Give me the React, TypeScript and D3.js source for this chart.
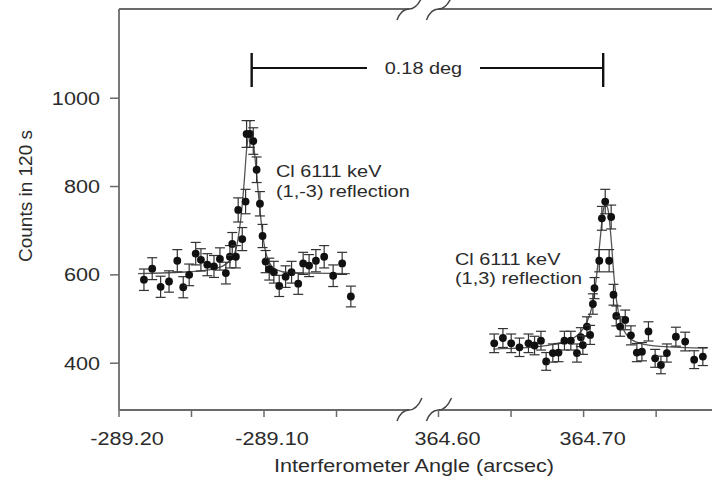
import React from "react";
import * as d3 from "d3";

// ---- data ----
const leftAngles = [
  -289.1828, -289.1771, -289.1713, -289.1655, -289.1598, -289.1557, -289.1516, -289.1471,
  -289.1435, -289.1391, -289.1345, -289.1304, -289.1263, -289.1235, -289.1219, -289.1194,
  -289.1178, -289.115, -289.1127, -289.112, -289.1097, -289.1074, -289.1051, -289.1028,
  -289.101, -289.0989, -289.0964, -289.0932, -289.0895, -289.0851, -289.081, -289.0764,
  -289.073, -289.0689, -289.0642, -289.0585, -289.0523, -289.0461, -289.0401,
];
const leftCounts = [
  589, 614, 573, 585, 632, 572, 600, 648, 634, 623, 619, 636, 604, 641, 670, 641,
  747, 681, 766, 919, 919, 903, 838, 761, 688, 630, 613, 606, 575, 596, 606, 580,
  626, 621, 632, 641, 598, 626, 551,
];
const rightAngles = [
  364.6384, 364.6444, 364.6501, 364.6558, 364.662, 364.6662, 364.6706, 364.6742,
  364.6788, 364.6827, 364.6868, 364.6912, 364.6954, 364.6981, 364.6995, 364.7023,
  364.7045, 364.7064, 364.7075, 364.7108, 364.7126, 364.7149, 364.7176, 364.719,
  364.7206, 364.7225, 364.7252, 364.7287, 364.7326, 364.7367, 364.7402, 364.7447,
  364.7493, 364.7533, 364.7574, 364.7636, 364.77, 364.7762, 364.7822,
];
const rightCounts = [
  445, 457, 445, 436, 445, 440, 451, 404, 423, 424, 451, 451, 423, 459, 441, 483,
  464, 534, 570, 632, 728, 766, 632, 731, 555, 507, 483, 498, 463, 424, 426, 472,
  411, 396, 423, 460, 449, 408, 415,
];
const leftFitAngles = [
  -289.1869, -289.1511, -289.1338, -289.1249, -289.1207, -289.118, -289.1159, -289.1139,
  -289.1118, -289.1097, -289.1076, -289.1056, -289.1035, -289.1014, -289.0994, -289.0966,
  -289.0918, -289.0822, -289.0408,
];
const leftFitCounts = [
  603, 607, 614, 628, 645, 680, 730, 800, 890, 925, 905, 845, 770, 705, 660, 630, 612, 605, 603,
];
const rightFitAngles = [
  364.6377, 364.6701, 364.6873, 364.6963, 364.7018, 364.7059, 364.7087, 364.7114,
  364.7135, 364.7152, 364.717, 364.719, 364.7211, 364.7232, 364.7259, 364.7307,
  364.739, 364.7528, 364.7852,
];
const rightFitCounts = [
  432, 438, 450, 465, 490, 530, 590, 680, 745, 760, 745, 680, 590, 530, 490, 460, 445, 438, 434,
];
const yTicks = [400, 600, 800, 1000];
const leftTicks = [-289.2, -289.15, -289.1, -289.05];
const leftTickLabels = ["-289.20", "", "-289.10", ""];
const rightTicks = [364.6, 364.65, 364.7, 364.75];
const rightTickLabels = ["364.60", "", "364.70", ""];
const bracketEnds = [-289.1085, 364.7135];
const bracketLabel = "0.18 deg";
const leftLabel = ["Cl 6111 keV", "(1,-3) reflection"];
const rightLabel = ["Cl 6111 keV", "(1,3) reflection"];
const xTitle = "Interferometer Angle (arcsec)";
const yTitle = "Counts in 120 s";

const FONT = "'Liberation Sans', Arial, Helvetica, sans-serif";
const TXT = "#2b2b2b";
const AX = "#6a6a6a";
const SX = 1.17; // horizontal stretch of the reference's lettering

function Stretched({ x, y, size, anchor = "start", children }: any) {
  return (
    <text
      transform={`translate(${x},${y}) scale(${SX},1)`}
      fontSize={size}
      fontFamily={FONT}
      fill={TXT}
      textAnchor={anchor}
    >
      {children}
    </text>
  );
}

export default function App() {
  const W = 712;
  const H = 485;
  const xL = d3.scaleLinear().domain([-289.2, -289.0]).range([119, 409]);
  const xR = d3.scaleLinear().domain([364.6, 364.8]).range([438.5, 728.7]);
  const y = d3.scaleLinear().domain([294, 1202]).range([410, 9]);
  const yTop = y.range()[1];
  const yBot = y.range()[0];
  const xAxisL = xL.range()[0];

  const mkLine = (xs: any) =>
    d3
      .line<[number, number]>()
      .x((d) => xs(d[0]))
      .y((d) => y(d[1]))
      .curve(d3.curveMonotoneX);

  const leftFit = mkLine(xL)(leftFitAngles.map((a, i) => [a, leftFitCounts[i]] as [number, number]));
  const rightFit = mkLine(xR)(rightFitAngles.map((a, i) => [a, rightFitCounts[i]] as [number, number]));

  const breakPath = "M-12,11 C-9,3 -5,0 0,0 C5,0 9,-3 13,-12";
  const breaks = [xL.range()[1], xR.range()[0]];

  const points = (angles: number[], counts: number[], xs: any, key: string) =>
    angles.map((a, i) => {
      const c = counts[i];
      const e = Math.sqrt(c);
      const cx = xs(a);
      const y1 = y(c + e);
      const y2 = y(c - e);
      return (
        <g key={key + i}>
          <line x1={cx} x2={cx} y1={y1} y2={y2} stroke="#333" strokeWidth={1.2} />
          <line x1={cx - 5} x2={cx + 5} y1={y1} y2={y1} stroke="#333" strokeWidth={1.2} />
          <line x1={cx - 5} x2={cx + 5} y1={y2} y2={y2} stroke="#333" strokeWidth={1.2} />
          <circle cx={cx} cy={y(c)} r={3.9} fill="#111" />
        </g>
      );
    });

  const bxL = xL(bracketEnds[0]);
  const bxR = xR(bracketEnds[1]);
  const bY = 68;

  return (
    <svg
      width={W}
      height={H}
      style={{ position: "absolute", left: 0, top: 0, display: "block", background: "#fff" }}
    >
      {/* frame: top and bottom axis lines with breaks, left axis */}
      {[yTop, yBot].map((yy, k) => (
        <g key={"ax" + k}>
          <line x1={xAxisL} x2={xL.range()[1]} y1={yy} y2={yy} stroke={AX} strokeWidth={1.8} />
          <line x1={xR.range()[0]} x2={W + 20} y1={yy} y2={yy} stroke={AX} strokeWidth={1.8} />
          {breaks.map((bx, j) => (
            <path
              key={j}
              d={breakPath}
              transform={`translate(${bx},${yy})`}
              fill="none"
              stroke="#444"
              strokeWidth={1.5}
            />
          ))}
        </g>
      ))}
      <line x1={xAxisL} x2={xAxisL} y1={yTop} y2={yBot} stroke={AX} strokeWidth={1.8} />

      {/* y ticks */}
      {yTicks.map((t) => (
        <g key={"yt" + t}>
          <line x1={xAxisL - 9} x2={xAxisL} y1={y(t)} y2={y(t)} stroke={AX} strokeWidth={1.5} />
          <Stretched x={100} y={y(t) + 6.5} size={18.5} anchor="end">
            {String(t)}
          </Stretched>
        </g>
      ))}

      {/* x ticks */}
      {leftTicks.map((t, i) => (
        <g key={"xl" + i}>
          <line x1={xL(t)} x2={xL(t)} y1={yBot} y2={yBot + 7} stroke={AX} strokeWidth={1.5} />
          {leftTickLabels[i] && (
            <Stretched x={xL(t) + 8} y={445} size={18.5} anchor="middle">
              {leftTickLabels[i]}
            </Stretched>
          )}
        </g>
      ))}
      {rightTicks.map((t, i) => (
        <g key={"xr" + i}>
          <line x1={xR(t)} x2={xR(t)} y1={yBot} y2={yBot + 7} stroke={AX} strokeWidth={1.5} />
          {rightTickLabels[i] && (
            <Stretched x={xR(t) + 9} y={445} size={18.5} anchor="middle">
              {rightTickLabels[i]}
            </Stretched>
          )}
        </g>
      ))}

      {/* axis titles */}
      <Stretched x={414} y={472} size={18.5} anchor="middle">
        {xTitle}
      </Stretched>
      <text
        transform={`translate(32,196) rotate(-90)`}
        fontSize={19}
        fontFamily={FONT}
        fill={TXT}
        textAnchor="middle"
      >
        {yTitle}
      </text>

      {/* fits */}
      <path d={leftFit || ""} fill="none" stroke="#555" strokeWidth={1.3} />
      <path d={rightFit || ""} fill="none" stroke="#555" strokeWidth={1.3} />

      {/* data */}
      {points(leftAngles, leftCounts, xL, "l")}
      {points(rightAngles, rightCounts, xR, "r")}

      {/* bracket */}
      <line x1={bxL} x2={367} y1={bY} y2={bY} stroke="#111" strokeWidth={2} />
      <line x1={480} x2={bxR} y1={bY} y2={bY} stroke="#111" strokeWidth={2} />
      <line x1={bxL} x2={bxL} y1={bY - 15} y2={bY + 19} stroke="#111" strokeWidth={2.4} />
      <line x1={bxR} x2={bxR} y1={bY - 15} y2={bY + 19} stroke="#111" strokeWidth={2.4} />
      <Stretched x={(bxL + bxR) / 2 - 4} y={bY + 6} size={17} anchor="middle">
        {bracketLabel}
      </Stretched>

      {/* peak labels */}
      <Stretched x={276} y={177} size={17}>
        {leftLabel[0]}
      </Stretched>
      <Stretched x={276} y={197} size={17}>
        {leftLabel[1]}
      </Stretched>
      <Stretched x={455} y={265} size={17}>
        {rightLabel[0]}
      </Stretched>
      <Stretched x={455} y={284} size={17}>
        {rightLabel[1]}
      </Stretched>
    </svg>
  );
}
